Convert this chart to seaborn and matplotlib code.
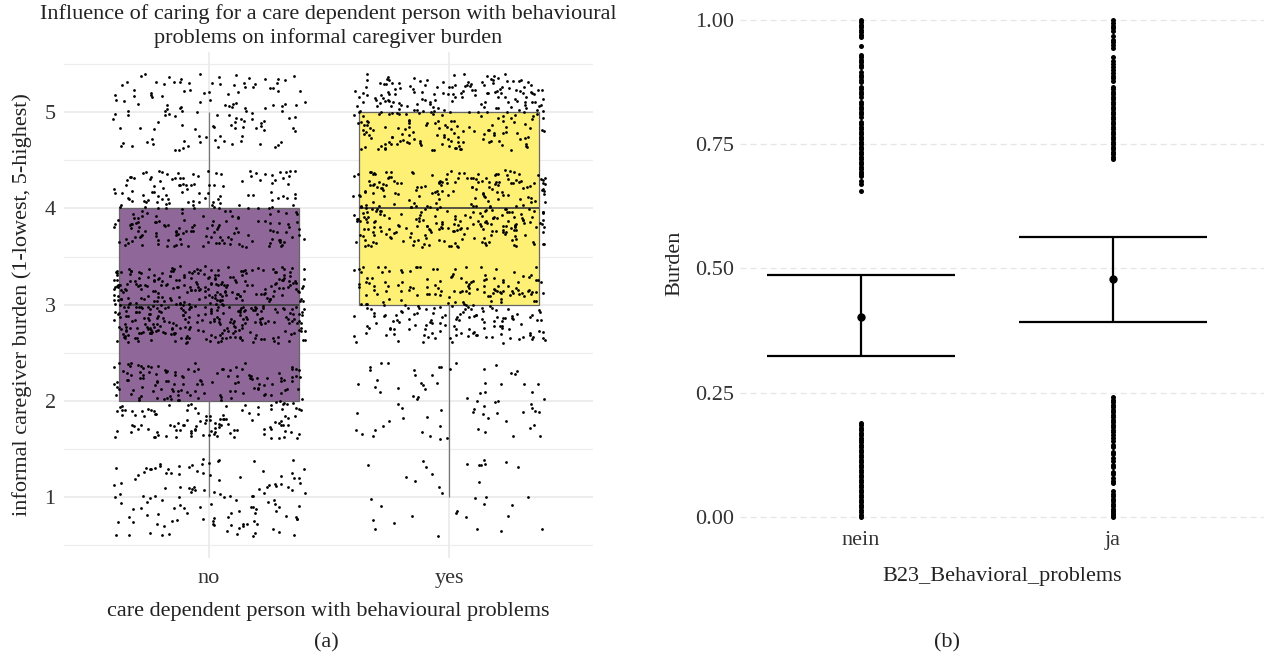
import numpy as np
import pandas as pd
import matplotlib
matplotlib.use("Agg")
import matplotlib.pyplot as plt
from matplotlib.ticker import MultipleLocator
import seaborn as sns

# ---------------- data: panel (a) ----------------
groups_a = ["no", "yes"]
levels_a = [1, 2, 3, 4, 5]
counts_no = [130, 240, 450, 230, 130]     # number of caregivers per burden level
counts_yes = [35, 75, 250, 330, 270]
box_colors = ["#8f6798", "#fdf075"]         # viridis ends at 60 % opacity
title_a = "Influence of caring for a care dependent person with behavioural\nproblems on informal caregiver burden"
xlabel_a = "care dependent person with behavioural problems"
ylabel_a = "informal caregiver burden (1-lowest, 5-highest)"

# ---------------- data: panel (b) ----------------
groups_b = ["nein", "ja"]
nein_low = [0.000, 0.005, 0.010, 0.015, 0.020, 0.025, 0.030, 0.035, 0.040, 0.045,
            0.050, 0.055, 0.060, 0.065, 0.070, 0.075, 0.080, 0.085, 0.090, 0.095,
            0.100, 0.105, 0.110, 0.115, 0.120, 0.125, 0.130, 0.135, 0.140, 0.145,
            0.150, 0.155, 0.160, 0.165, 0.170, 0.175, 0.180, 0.185, 0.190]
nein_high = [0.655, 0.670, 0.675, 0.685, 0.690, 0.695, 0.700, 0.705, 0.710, 0.715,
             0.720, 0.725, 0.730, 0.735, 0.740, 0.745, 0.750, 0.755, 0.760, 0.765,
             0.770, 0.775, 0.780, 0.785, 0.790, 0.795, 0.805, 0.810, 0.815, 0.820,
             0.825, 0.830, 0.835, 0.845, 0.850, 0.855, 0.860, 0.865, 0.875, 0.880,
             0.885, 0.890, 0.895, 0.905, 0.910, 0.915, 0.920, 0.925, 0.930, 0.948,
             0.965, 0.970, 0.975, 0.980, 0.985, 0.990, 0.995, 1.000]
ja_low = [0.000, 0.004, 0.008, 0.012, 0.017, 0.022, 0.027, 0.032, 0.037, 0.042,
          0.047, 0.052, 0.068, 0.073, 0.078, 0.086, 0.091, 0.100, 0.105, 0.113,
          0.118, 0.126, 0.131, 0.140, 0.145, 0.152, 0.160, 0.165, 0.171, 0.176,
          0.181, 0.186, 0.191, 0.196, 0.201, 0.206, 0.211, 0.216, 0.221, 0.226,
          0.231, 0.236, 0.241]
ja_high = [0.720, 0.725, 0.730, 0.735, 0.740, 0.745, 0.750, 0.755, 0.760, 0.765,
           0.770, 0.775, 0.780, 0.785, 0.790, 0.795, 0.800, 0.805, 0.810, 0.815,
           0.820, 0.825, 0.830, 0.835, 0.840, 0.845, 0.850, 0.855, 0.860, 0.865,
           0.878, 0.883, 0.888, 0.893, 0.900, 0.905, 0.912, 0.918, 0.925, 0.944,
           0.949, 0.955, 0.960, 0.967, 0.978, 0.983, 0.988, 0.993, 1.000]
means_b = [0.402, 0.478]
ci_low_b = [0.323, 0.392]
ci_high_b = [0.487, 0.563]
xlabel_b = "B23_Behavioral_problems"
ylabel_b = "Burden"

# ---------------- build tables ----------------
rows = []
for g, cnts in zip(groups_a, [counts_no, counts_yes]):
    for lvl, c in zip(levels_a, cnts):
        rows += [(g, lvl)] * c
df_a = pd.DataFrame(rows, columns=["group", "score"])
# display-only vertical jitter (as geom_jitter(height = 0.4))
rng = np.random.default_rng(7)
df_a["score_jit"] = df_a["score"] + rng.uniform(-0.4, 0.4, len(df_a))

rows_b = [("nein", v) for v in nein_low + nein_high] + [("ja", v) for v in ja_low + ja_high]
df_b = pd.DataFrame(rows_b, columns=["group", "burden"])

# ---------------- style ----------------
sns.set_theme(style="white")
plt.rcParams['font.family'] = ['Liberation Serif', 'DejaVu Serif']
plt.rcParams['text.color'] = '#222222'
plt.rcParams['axes.labelcolor'] = '#222222'
plt.rcParams['xtick.color'] = '#333333'
plt.rcParams['ytick.color'] = '#333333'

W, H = 1269, 657
fig = plt.figure(figsize=(W / 100, H / 100), dpi=100)


def px_axes(x0, y0, x1, y1):
    return fig.add_axes([x0 / W, 1 - y1 / H, (x1 - x0) / W, (y1 - y0) / H])


FS = 16

# ---------------- panel (a) ----------------
ax1 = px_axes(64, 51.5, 593, 558)
sns.boxplot(data=df_a, x="group", y="score", hue="group", order=groups_a,
            palette=dict(zip(groups_a, box_colors)), saturation=1, width=0.75,
            linecolor="#666666", linewidth=0.9, showcaps=False, fliersize=0,
            whis=1.5, legend=False, ax=ax1,
            medianprops=dict(color="#3a3a3a", linewidth=1.2),
            whiskerprops=dict(color="#777777", linewidth=0.9))
sns.stripplot(data=df_a, x="group", y="score_jit", order=groups_a, jitter=0.4,
              color="black", size=2.0, linewidth=0, ax=ax1, zorder=3)
ax1.set_xlim(-0.604, 1.6)
ax1.set_ylim(0.37, 5.63)
ax1.set_yticks([1, 2, 3, 4, 5])
ax1.yaxis.set_minor_locator(MultipleLocator(0.5))
ax1.grid(True, which="major", color="#e8e8e8", linewidth=1.1)
ax1.grid(True, which="minor", axis="y", color="#ececec", linewidth=0.8)
ax1.set_axisbelow(True)
for s in ax1.spines.values():
    s.set_visible(False)
ax1.tick_params(axis="both", which="both", length=0, labelsize=FS)
ax1.tick_params(axis="y", pad=6)
ax1.tick_params(axis="x", pad=8)
ax1.set_xlabel(xlabel_a, fontsize=FS, labelpad=10)
ax1.set_ylabel(ylabel_a, fontsize=FS, labelpad=9)
fig.text(328 / W, 1 - 4 / H, title_a, ha="center", va="top", fontsize=FS,
         linespacing=1.3)

# ---------------- panel (b) ----------------
ax2 = px_axes(740, 0, 1264, 527)
sns.stripplot(data=df_b, x="group", y="burden", order=groups_b, jitter=False,
              color="black", size=3.6, linewidth=0, ax=ax2, zorder=3)
pos = np.arange(len(groups_b))
m = np.array(means_b)
ax2.errorbar(pos, m, yerr=[m - np.array(ci_low_b), np.array(ci_high_b) - m],
             fmt="o", color="black", ms=5, capsize=68, elinewidth=1.6,
             capthick=1.6, zorder=4)
ax2.set_xlim(-0.48, 1.6)
ax2.set_ylim(-0.02, 1.04)
ax2.set_yticks([0, 0.25, 0.5, 0.75, 1.0])
ax2.set_yticklabels(["0.00", "0.25", "0.50", "0.75", "1.00"])
ax2.grid(True, axis="y", color="#e6e6e6", linewidth=0.9, linestyle=(0, (5, 3)))
ax2.grid(False, axis="x")
ax2.set_axisbelow(True)
for s in ax2.spines.values():
    s.set_visible(False)
ax2.tick_params(axis="both", length=0, labelsize=FS)
ax2.tick_params(axis="y", pad=4)
ax2.tick_params(axis="x", pad=3)
ax2.set_xlabel(xlabel_b, fontsize=FS, labelpad=12)
ax2.set_ylabel(ylabel_b, fontsize=FS, labelpad=8)

fig.text(326 / W, 1 - 643 / H, "(a)", ha="center", va="center", fontsize=FS)
fig.text(947 / W, 1 - 643 / H, "(b)", ha="center", va="center", fontsize=FS)

fig.savefig("out.png", dpi=100)
